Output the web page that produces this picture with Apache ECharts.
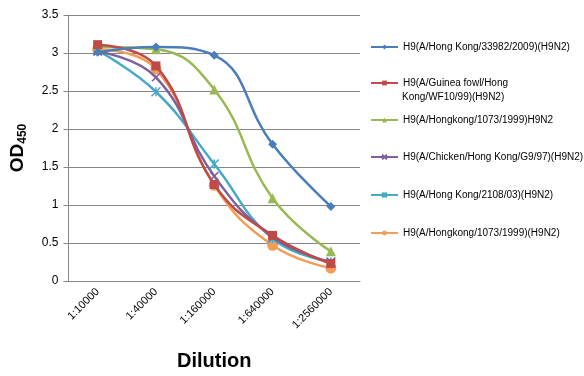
<!DOCTYPE html>
<html><head><meta charset="utf-8">
<script src="https://cdn.jsdelivr.net/npm/echarts@6/dist/echarts.min.js"></script>
<style>html,body{margin:0;padding:0;background:#fff}#c{width:584px;height:376px}</style>
</head><body><div id="c"></div>
<script>
const categories = ['1:10000','1:40000','1:160000','1:640000','1:2560000'];
const seriesNames = [
  'H9(A/Hong Kong/33982/2009)(H9N2)',
  'H9(A/Guinea fowl/Hong Kong/WF10/99)(H9N2)',
  'H9(A/Hongkong/1073/1999)H9N2',
  'H9(A/Chicken/Hong Kong/G9/97)(H9N2)',
  'H9(A/Hong Kong/2108/03)(H9N2)',
  'H9(A/Hongkong/1073/1999)(H9N2)'
];
const s1 = [3.01, 3.08, 2.97, 1.80, 0.98];
const s2 = [3.11, 2.83, 1.27, 0.60, 0.23];
const s3 = [3.08, 3.05, 2.52, 1.09, 0.39];
const s4 = [3.02, 2.68, 1.38, 0.58, 0.25];
const s5 = [3.03, 2.49, 1.54, 0.56, 0.25];
const s6 = [3.05, 2.79, 1.26, 0.47, 0.17];
const yTicks = [0, 0.5, 1, 1.5, 2, 2.5, 3, 3.5];
const wrapFirst = 'H9(A/Guinea fowl/Hong';
const wrapSecond = 'Kong/WF10/99)(H9N2)';

const values = [s1, s2, s3, s4, s5, s6];
const colors = ['#4A7EBB', '#BE4B48', '#98B954', '#7D5FA0', '#46AAC5', '#F59D56'];
const symbols = ['diamond', 'rect', 'triangle',
  'path://M0,0L10,10M10,0L0,10',
  'path://M0,0L10,10M10,0L0,10M5,0L5,10',
  'circle'];
const symSizes = [9, 9, 10, 8, 9, 11];
const legendTops = [40, 76, 113, 150, 188, 226];
const legendFont = { fontFamily: 'Liberation Sans', fontSize: 10, color: '#000', lineHeight: 14 };

const series = values.map((v, i) => ({
  name: seriesNames[i],
  type: 'line',
  data: v,
  smooth: 0.45,
  symbol: symbols[i],
  symbolSize: symSizes[i],
  lineStyle: { width: 2.5, color: colors[i] },
  itemStyle: (i === 3 || i === 4) ? { color: colors[i], borderColor: colors[i], borderWidth: 1.5 } : { color: colors[i] },
  z: 10 - i
}));

const legends = seriesNames.map((n, i) => ({
  data: [n],
  left: 370,
  top: legendTops[i],
  padding: 0,
  orient: 'vertical',
  itemWidth: 27,
  itemHeight: 6,
  itemGap: 3,
  textStyle: legendFont,
  formatter: (name) => name === seriesNames[1] ? wrapFirst : name
}));

const chart = echarts.init(document.getElementById('c'), null, { renderer: 'canvas' });
chart.setOption({
  animation: false,
  color: colors,
  legend: legends,
  graphic: [{
    type: 'text', left: 402, top: legendTops[1] + 14,
    style: { text: wrapSecond, font: '10px "Liberation Sans"', fill: '#000', lineHeight: 14 }
  }],
  grid: { left: 66, right: 224, top: 15, bottom: 95, containLabel: false },
  xAxis: {
    type: 'category',
    data: categories,
    boundaryGap: true,
    axisLine: { lineStyle: { color: '#868686' } },
    axisTick: { show: false },
    axisLabel: { rotate: 45, fontFamily: 'Liberation Sans', fontSize: 11, color: '#000', margin: 9, interval: 0 },
    name: 'Dilution',
    nameLocation: 'middle',
    nameGap: 70,
    nameTextStyle: { fontFamily: 'Liberation Sans', fontSize: 20, fontWeight: 'bold', color: '#000' }
  },
  yAxis: {
    type: 'value',
    min: 0, max: 3.5, interval: 0.5,
    axisLine: { show: true, lineStyle: { color: '#868686' } },
    axisTick: { show: true, inside: false, length: 5, lineStyle: { color: '#868686' } },
    splitLine: { lineStyle: { color: '#868686', width: 1 } },
    axisLabel: { fontFamily: 'Liberation Sans', fontSize: 12, color: '#000', margin: 10,
      formatter: (v) => yTicks.includes(v) ? String(v) : '' },
    name: 'OD{sub|450}',
    nameLocation: 'middle',
    nameGap: 40,
    nameRotate: 90,
    nameTextStyle: { fontFamily: 'Liberation Sans', fontSize: 19, fontWeight: 'bold', color: '#000',
      rich: { sub: { fontFamily: 'Liberation Sans', fontSize: 12, fontWeight: 'bold', color: '#000', verticalAlign: 'bottom', padding: [10, 0, 0, 0] } } }
  },
  series: series
});
</script></body></html>
